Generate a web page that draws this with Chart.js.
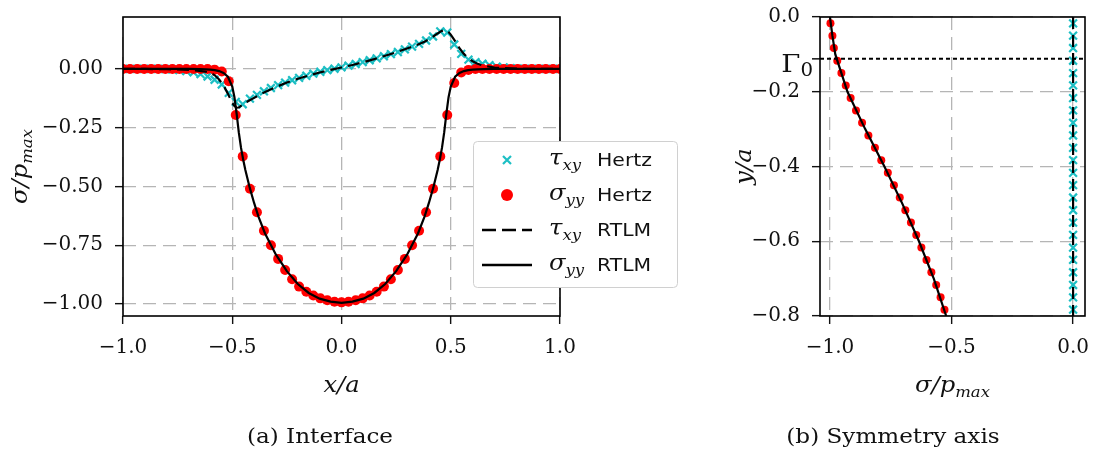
<!DOCTYPE html>
<html>
<head>
<meta charset="utf-8">
<script src="https://cdn.jsdelivr.net/npm/chart.js@4.4.0/dist/chart.umd.min.js"></script>
<style>
  body { margin: 0; background: #fff; width: 1093px; height: 474px; overflow: hidden; position: relative; }
  canvas { position: absolute; left: 0; top: 0; }
  .cap { position: absolute; top: 426px; font-family: 'DejaVu Serif'; font-size: 21px; line-height: 1; color: #111;
         white-space: nowrap; transform: translateX(-50%) scaleX(1.1); }
</style>
</head>
<body>
<canvas id="interface" width="1093" height="474"></canvas>
<canvas id="symmetry" width="1093" height="474"></canvas>
<div class="cap" style="left:320px">(a) Interface</div>
<div class="cap" style="left:893px">(b) Symmetry axis</div>
<script>
// (a) interface: Hertz samples
const hertzX = [-1.000,-0.968,-0.935,-0.903,-0.871,-0.839,-0.806,-0.774,-0.742,-0.710,-0.677,-0.645,
  -0.613,-0.581,-0.548,-0.516,-0.484,-0.452,-0.419,-0.387,-0.355,-0.323,-0.290,-0.258,-0.226,-0.194,-0.161,-0.129,-0.097,-0.065,-0.032,
  0.000,
  0.032,0.065,0.097,0.129,0.161,0.194,0.226,0.258,0.290,0.323,0.355,0.387,0.419,0.452,0.484,0.516,0.548,0.581,0.613,
  0.645,0.677,0.710,0.742,0.774,0.806,0.839,0.871,0.903,0.935,0.968,1.000];
const hertzSigma = [0,0,0,0,0,0,0,0,0,0,0,0,
  0,-0.003,-0.011,-0.052,-0.196,-0.372,-0.510,-0.610,-0.688,-0.750,-0.808,-0.855,-0.895,-0.926,-0.948,-0.964,-0.976,-0.984,-0.990,
  -0.993,
  -0.990,-0.984,-0.976,-0.964,-0.948,-0.926,-0.895,-0.855,-0.808,-0.750,-0.688,-0.610,-0.510,-0.372,-0.196,-0.060,-0.015,-0.004,0,
  0,0,0,0,0,0,0,0,0,0,0,0];
const hertzTau = [0,0,0,0,0,0,-0.001,-0.002,-0.005,-0.009,-0.014,-0.022,
  -0.032,-0.046,-0.066,-0.102,-0.140,-0.150,-0.126,-0.110,-0.095,-0.081,-0.069,-0.058,-0.048,-0.038,-0.029,-0.020,-0.012,-0.005,0.001,
  0.007,
  0.014,0.021,0.029,0.037,0.045,0.054,0.063,0.072,0.083,0.095,0.107,0.121,0.138,0.160,0.155,0.104,0.064,0.040,0.029,
  0.022,0.016,0.010,0.006,0.003,0.001,0,0,0,0,0,0];

// (a) interface: RTLM curves
const rtlmX = [-1,-0.9,-0.8,-0.7,-0.65,-0.62,-0.6,-0.58,-0.56,-0.54,-0.52,-0.5,-0.49,-0.48,-0.47,-0.46,-0.45,-0.44,-0.42,-0.4,-0.38,-0.35,-0.3,-0.25,-0.2,-0.15,-0.1,-0.05,
  0,
  0.05,0.1,0.15,0.2,0.25,0.3,0.35,0.38,0.4,0.42,0.44,0.45,0.46,0.47,0.48,0.49,0.5,0.52,0.54,0.56,0.58,0.6,0.62,0.65,0.7,0.8,0.9,1];
const rtlmSigma = [0,0,0,0,-0.001,-0.002,-0.003,-0.005,-0.009,-0.017,-0.033,-0.075,-0.12,-0.19,-0.27,-0.335,-0.385,-0.43,-0.505,-0.57,-0.628,-0.70,-0.79,-0.86,-0.915,-0.953,-0.977,-0.99,
  -0.995,
  -0.99,-0.977,-0.953,-0.915,-0.86,-0.79,-0.70,-0.628,-0.57,-0.505,-0.43,-0.385,-0.335,-0.27,-0.19,-0.12,-0.075,-0.033,-0.017,-0.009,-0.005,-0.003,-0.002,-0.001,0,0,0,0];
const rtlmTau = [0,0,-0.001,-0.004,-0.008,-0.012,-0.017,-0.027,-0.045,-0.070,-0.105,-0.145,-0.158,-0.165,-0.164,-0.157,-0.150,-0.144,-0.133,-0.123,-0.113,-0.098,-0.077,-0.058,-0.042,-0.028,-0.015,-0.004,
  0.006,
  0.017,0.029,0.042,0.056,0.071,0.087,0.104,0.116,0.126,0.138,0.151,0.157,0.162,0.165,0.164,0.157,0.146,0.118,0.088,0.064,0.046,0.033,0.023,0.014,0.006,0.001,0,0];

// (b) symmetry axis
const axisY = [-0.017,-0.050,-0.083,-0.117,-0.150,-0.183,-0.217,-0.250,-0.283,-0.317,-0.350,-0.383,
  -0.417,-0.450,-0.483,-0.517,-0.550,-0.583,-0.617,-0.650,-0.683,-0.717,-0.750,-0.783];
const axisHertzSigma = [-0.998,-0.990,-0.984,-0.970,-0.953,-0.935,-0.915,-0.893,-0.868,-0.842,-0.815,-0.789,
  -0.762,-0.737,-0.713,-0.690,-0.667,-0.645,-0.624,-0.603,-0.583,-0.563,-0.545,-0.529];
const axisHertzTau = [0,0,0,0,0,0,0,0,0,0,0,0,0,0,0,0,0,0,0,0,0,0,0,0];
const axisLineY = [0,-0.05,-0.1,-0.15,-0.2,-0.3,-0.4,-0.5,-0.6,-0.7,-0.8];
const axisRtlmSigma = [-1.0,-0.99,-0.978,-0.953,-0.928,-0.855,-0.776,-0.702,-0.634,-0.573,-0.522];
const axisRtlmTau = [0,0,0,0,0,0,0,0,0,0,0];
const gamma0 = -0.112;

// ticks
const aXTicks = [-1, -0.5, 0, 0.5, 1];
const aXLabels = ['−1.0', '−0.5', '0.0', '0.5', '1.0'];
const aYTicks = [0, -0.25, -0.5, -0.75, -1];
const aYLabels = ['0.00', '−0.25', '−0.50', '−0.75', '−1.00'];
const bXTicks = [-1, -0.5, 0];
const bXLabels = ['−1.0', '−0.5', '0.0'];
const bYTicks = [0, -0.2, -0.4, -0.6, -0.8];
const bYLabels = ['0.0', '−0.2', '−0.4', '−0.6', '−0.8'];

const legendMath = [['τ', 'xy'], ['σ', 'yy'], ['τ', 'xy'], ['σ', 'yy']];
const legendWords = ['Hertz', 'Hertz', 'RTLM', 'RTLM'];

const cyan = '#1cbfc4';
const red = '#ff0000';
const ink = '#111';
const MI = "italic 22px 'DejaVu Serif'";
const SUB = "italic 15px 'DejaVu Serif'";

function pts(xs, ys) {
  return xs.map((x, i) => ({ x: x, y: ys[i] }));
}

function axis(min, max, ticks, labels, size, horizontal) {
  return {
    type: 'linear',
    min: min,
    max: max,
    afterBuildTicks: (s) => { s.ticks = ticks.map((v) => ({ value: v })); },
    afterFit: (s) => {
      if (horizontal) s.height = size; else s.width = size;
      s.paddingLeft = 0; s.paddingRight = 0; s.paddingTop = 0; s.paddingBottom = 0;
    },
    ticks: {
      autoSkip: false,
      maxRotation: 0,
      padding: horizontal ? 12 : 12,
      color: ink,
      font: { family: "'DejaVu Serif'", size: 20 },
      callback: (v, i) => labels[i],
    },
    grid: { color: '#b5b5b5', lineWidth: 1.3, tickLength: 8, tickColor: ink, tickWidth: 1.4, tickBorderDash: [] },
    border: { display: false, dash: [13, 7] },
  };
}

function datasets(tauH, sigH, tauL, sigL, dotR) {
  return [
    { data: sigL, showLine: true, borderColor: '#000', borderWidth: 2.2, pointRadius: 0, tension: 0, order: 0 },
    { data: tauL, showLine: true, borderColor: '#000', borderWidth: 2.2, borderDash: [12, 6], pointRadius: 0, tension: 0, order: 1 },
    { data: sigH, showLine: false, pointStyle: 'circle', pointRadius: dotR, pointBorderWidth: 0,
      pointBackgroundColor: red, pointBorderColor: red, order: 2 },
    { data: tauH, showLine: false, pointStyle: 'crossRot', pointRadius: 5.5, pointBorderWidth: 2.2,
      pointBorderColor: cyan, pointBackgroundColor: cyan, order: 3 },
  ];
}

// text with small subscripts, slightly widened like the reference
function richText(ctx, segs, x, y, align) {
  const sx = 1.1;
  let w = 0;
  for (const s of segs) { ctx.font = s[1]; w += ctx.measureText(s[0]).width; }
  ctx.save();
  ctx.translate(x, y);
  ctx.scale(sx, 1);
  ctx.fillStyle = ink;
  ctx.textAlign = 'left';
  ctx.textBaseline = 'alphabetic';
  let cx = align === 'left' ? 0 : align === 'right' ? -w : -w / 2;
  for (const s of segs) {
    ctx.font = s[1];
    ctx.fillText(s[0], cx, s[2] || 0);
    cx += ctx.measureText(s[0]).width;
  }
  ctx.restore();
}

const sigmaOverP = [['σ/p', MI], ['max', SUB, 5]];

function drawFrame(chart) {
  const { ctx, chartArea: a } = chart;
  ctx.save();
  ctx.strokeStyle = '#000';
  ctx.lineWidth = 1.6;
  ctx.strokeRect(a.left, a.top, a.right - a.left, a.bottom - a.top);
  ctx.restore();
}

function drawLegend(ctx) {
  ctx.save();
  ctx.beginPath();
  ctx.roundRect(473.5, 141.5, 204, 146, 4);
  ctx.fillStyle = '#fff';
  ctx.fill();
  ctx.strokeStyle = '#d0d0d0';
  ctx.lineWidth = 1;
  ctx.stroke();
  const rows = [160, 195, 230, 265];
  // markers
  ctx.strokeStyle = cyan; ctx.lineWidth = 2.2;
  ctx.beginPath();
  ctx.moveTo(503, 156); ctx.lineTo(511, 164);
  ctx.moveTo(511, 156); ctx.lineTo(503, 164);
  ctx.stroke();
  ctx.fillStyle = red;
  ctx.beginPath(); ctx.arc(507, rows[1], 6, 0, Math.PI * 2); ctx.fill();
  ctx.strokeStyle = '#000'; ctx.lineWidth = 2.4;
  ctx.setLineDash([14, 6]);
  ctx.beginPath(); ctx.moveTo(482, rows[2]); ctx.lineTo(532, rows[2]); ctx.stroke();
  ctx.setLineDash([]);
  ctx.beginPath(); ctx.moveTo(482, rows[3]); ctx.lineTo(532, rows[3]); ctx.stroke();
  ctx.restore();
  legendMath.forEach((m, i) => {
    richText(ctx, [[m[0], MI], [m[1], SUB, 5]], 549, rows[i] + 5, 'left');
    ctx.save();
    ctx.translate(597, rows[i] + 6);
    ctx.scale(1.2, 1);
    ctx.font = "17px 'DejaVu Sans'";
    ctx.fillStyle = ink;
    ctx.textBaseline = 'alphabetic';
    ctx.fillText(legendWords[i], 0, 0);
    ctx.restore();
  });
}

const interfaceExtras = {
  id: 'interfaceExtras',
  afterDatasetsDraw: (chart) => drawFrame(chart),
  afterDraw: (chart) => {
    const { ctx, chartArea: a } = chart;
    richText(ctx, [['x/a', MI]], (a.left + a.right) / 2, 392);
    ctx.save();
    ctx.translate(27, (a.top + a.bottom) / 2);
    ctx.rotate(-Math.PI / 2);
    richText(ctx, sigmaOverP, 0, 0);
    ctx.restore();
    drawLegend(ctx);
  },
};

const symmetryExtras = {
  id: 'symmetryExtras',
  afterDatasetsDraw: (chart) => {
    const { ctx, chartArea: a, scales } = chart;
    const gy = scales.y.getPixelForValue(gamma0);
    ctx.save();
    ctx.strokeStyle = '#000';
    ctx.lineWidth = 2;
    ctx.setLineDash([4, 3]);
    ctx.beginPath(); ctx.moveTo(a.left, gy); ctx.lineTo(a.right, gy); ctx.stroke();
    ctx.setLineDash([]);
    ctx.lineWidth = 1.4;
    ctx.beginPath(); ctx.moveTo(a.left - 8, gy); ctx.lineTo(a.left, gy); ctx.stroke();
    ctx.restore();
    drawFrame(chart);
  },
  afterDraw: (chart) => {
    const { ctx, chartArea: a, scales } = chart;
    const gy = scales.y.getPixelForValue(gamma0);
    richText(ctx, [['Γ', "25px 'DejaVu Serif'"], ['0', "18px 'DejaVu Serif'", 4]], a.left - 7, gy + 13, 'right');
    richText(ctx, sigmaOverP, (a.left + a.right) / 2, 392);
    ctx.save();
    ctx.translate(751, (a.top + a.bottom) / 2);
    ctx.rotate(-Math.PI / 2);
    richText(ctx, [['y/a', MI]], 0, 0);
    ctx.restore();
  },
};

const common = {
  responsive: false,
  animation: false,
  events: [],
  plugins: { legend: { display: false }, tooltip: { enabled: false } },
};

new Chart(document.getElementById('interface').getContext('2d'), {
  type: 'scatter',
  data: { datasets: datasets(pts(hertzX, hertzTau), pts(hertzX, hertzSigma), pts(rtlmX, rtlmTau), pts(rtlmX, rtlmSigma), 5) },
  options: Object.assign({}, common, {
    layout: { padding: { left: 0, top: 17, right: 533, bottom: 0 } },
    scales: {
      x: axis(-1, 1, aXTicks, aXLabels, 158, true),
      y: axis(-1.051, 0.221, aYTicks, aYLabels, 123, false),
    },
  }),
  plugins: [interfaceExtras],
});

new Chart(document.getElementById('symmetry').getContext('2d'), {
  type: 'scatter',
  data: { datasets: datasets(pts(axisHertzTau, axisY), pts(axisHertzSigma, axisY), pts(axisRtlmTau, axisLineY), pts(axisRtlmSigma, axisLineY), 4) },
  options: Object.assign({}, common, {
    layout: { padding: { left: 700, top: 17, right: 8, bottom: 0 } },
    scales: {
      x: axis(-1.041, 0.049, bXTicks, bXLabels, 158, true),
      y: axis(-0.8, 0, bYTicks, bYLabels, 120, false),
    },
  }),
  plugins: [symmetryExtras],
});
</script>
</body>
</html>
